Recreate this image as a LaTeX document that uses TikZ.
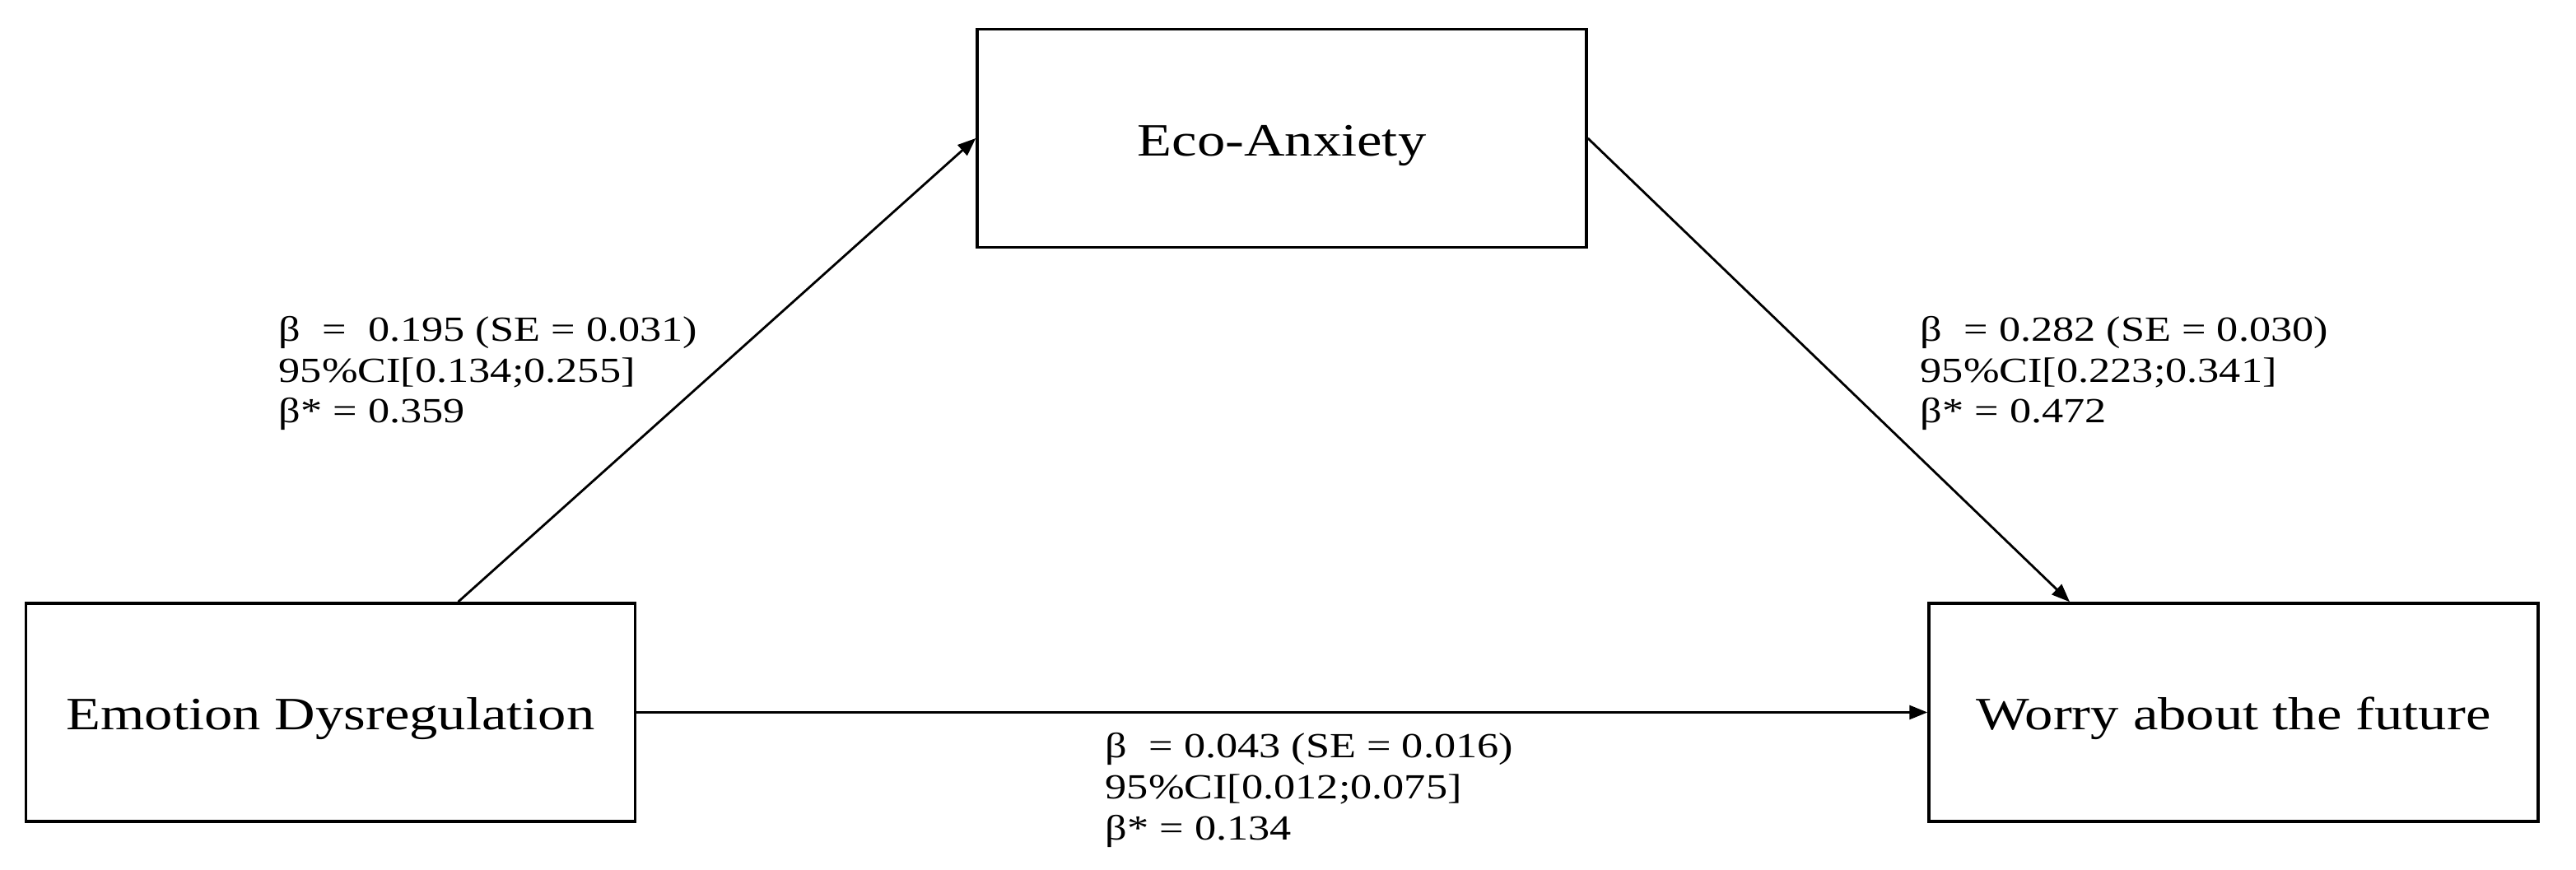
\documentclass[tikz,border=0pt]{standalone}
\usepackage{fontspec}
\setmainfont{Liberation Serif}[FakeStretch=1.22]
\usetikzlibrary{arrows.meta}
\begin{document}
\begin{tikzpicture}[
  varbox/.style={draw, line width=1pt, minimum width=7.4cm, minimum height=2.65cm, inner sep=0pt, text height=16pt, text depth=4pt, font=\fontsize{16}{19}\selectfont},
  conn/.style={line width=0.8pt, -{Triangle[length=2.2mm,width=1.7mm]}},
  stat/.style={align=left, inner sep=0pt, anchor=base west, font=\fontsize{12.2}{14.2}\selectfont}
]
\useasboundingbox (0,0) rectangle (31.29,10.56);
\node[varbox] (eco) at (15.57,8.88) {Eco-Anxiety};
\node[varbox] (ed) at (4.015,1.905) {Emotion Dysregulation};
\node[varbox] (wf) at (27.13,1.905) {Worry about the future};
\coordinate (a1) at ([xshift=1.55cm]ed.north);
\coordinate (a2) at ([xshift=-1.99cm]wf.north);
\draw[conn] (a1) -- (eco.west);
\draw[conn] (eco.east) -- (a2);
\draw[conn] (ed.east) -- (wf.west);
\node[stat] (l1) at (3.38,5.42) {β\ \ =\ \ 0.195 (SE = 0.031)\\95\%CI[0.134;0.255]\\β* = 0.359};
\node[stat] (l2) at (23.32,5.42) {β\ \ = 0.282 (SE = 0.030)\\95\%CI[0.223;0.341]\\β* = 0.472};
\node[stat] (l3) at (13.42,0.36) {β\ \ = 0.043 (SE = 0.016)\\95\%CI[0.012;0.075]\\β* = 0.134};
\end{tikzpicture}
\end{document}
